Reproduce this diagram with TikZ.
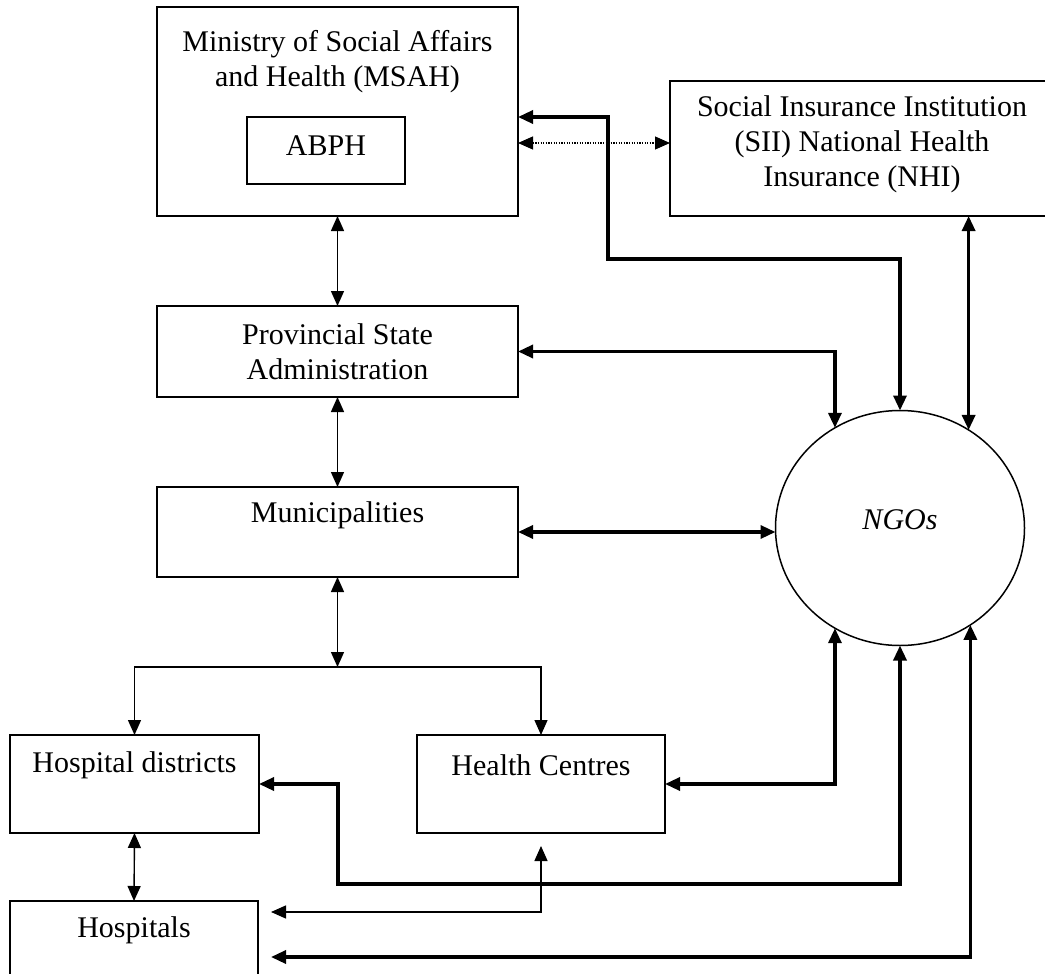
\documentclass[tikz,border=0pt]{standalone}
\usepackage{fontspec}
\setmainfont{Liberation Serif}
\usetikzlibrary{arrows.meta,calc,shapes.geometric}
\begin{document}
\begin{tikzpicture}[x=1pt,y=-1pt,
  >={Triangle[length=15pt,width=13pt]},
  box/.style={draw, line width=1.5pt, inner sep=0pt, outer sep=0pt},
  lbl/.style={font=\fontsize{30}{35}\selectfont, align=center, inner sep=0pt},
  thinline/.style={line width=1.4pt},
  thickline/.style={line width=3.3pt},
  dotline/.style={line width=1.2pt, dash pattern=on 1.3pt off 1.3pt}
]
\useasboundingbox (0,0) rectangle (1045,974);
\clip (0,0) rectangle (1045,974);

% boxes
\node[box, minimum width=361pt, minimum height=209pt] (msah) at (337.5,111.5) {};
\node[lbl] (msaht) at (337.5,61.5) {Ministry of Social Affairs\\and Health (MSAH)};
\node[box, minimum width=158pt, minimum height=67pt] (abph) at (326,150.5) {};
\node[lbl] (abpht) at (326,146) {ABPH};
\node[box, minimum width=390pt, minimum height=135pt] (sii) at (865,148.5) {};
\node[lbl] (siit) at (862,144) {Social Insurance Institution\\(SII) National Health\\Insurance (NHI)};
\node[box, minimum width=361pt, minimum height=91pt] (psa) at (337.5,351.5) {};
\node[lbl] (psat) at (337.5,352) {Provincial State\\Administration};
\node[box, minimum width=361pt, minimum height=90pt] (mun) at (337.5,532) {};
\node[lbl] (munt) at (337.5,515) {Municipalities};
\node[box, minimum width=249pt, minimum height=98pt] (hd) at (134.5,784) {};
\node[lbl] (hdt) at (134.5,765) {Hospital districts};
\node[box, minimum width=248pt, minimum height=98pt] (hc) at (541,784) {};
\node[lbl] (hct) at (541,765) {Health Centres};
\node[box, minimum width=248pt, minimum height=110pt] (hosp) at (134,956) {};
\node[lbl] (hospt) at (134,930) {Hospitals};
\node[box, ellipse, minimum width=249pt, minimum height=235pt] (ngo) at (900,528) {};
\node[lbl, font=\fontsize{30}{35}\selectfont\itshape] (ngot) at (900,520) {NGOs};

% free ends
\coordinate (split) at (337.5,667);
\coordinate (hcup) at (541,846);
\coordinate (hospin1) at (271,912);
\coordinate (hospin2) at (271,957);

% thin connectors
\draw[thinline,<->] (msah.south) -- (psa.north);
\draw[thinline,<->] (psa.south) -- (mun.north);
\draw[thinline,<->] (mun.south) -- (split);
\draw[thinline,->] (split) -| (hd.north);
\draw[thinline,->] (split) -| (hc.north);
\draw[thinline,<->] (hd.south) -- (hosp.north);
\draw[thinline,<->] (hcup) |- (hospin1);
\draw[dotline,<->] ($(msah.east)+(0,31.5)$) -- ($(sii.west)+(0,-5.5)$);

% thick connectors
\draw[thickline,<->] ($(msah.east)+(0,5.5)$) -| (608,259) -| (ngo.north);
\draw[thickline,<->] (ngo.55 |- sii.south) -- (ngo.55);
\draw[thickline,<->] (psa.east) -| (ngo.123);
\draw[thickline,<->] (mun.east) -- (mun.east -| ngo.west);
\draw[thickline,<->] (hc.east) -| (ngo.-123);
\draw[thickline,<->] (hd.east) -| (338,884) -| (ngo.south);
\draw[thickline,<->] (ngo.-54) |- (hospin2);
\end{tikzpicture}
\end{document}
